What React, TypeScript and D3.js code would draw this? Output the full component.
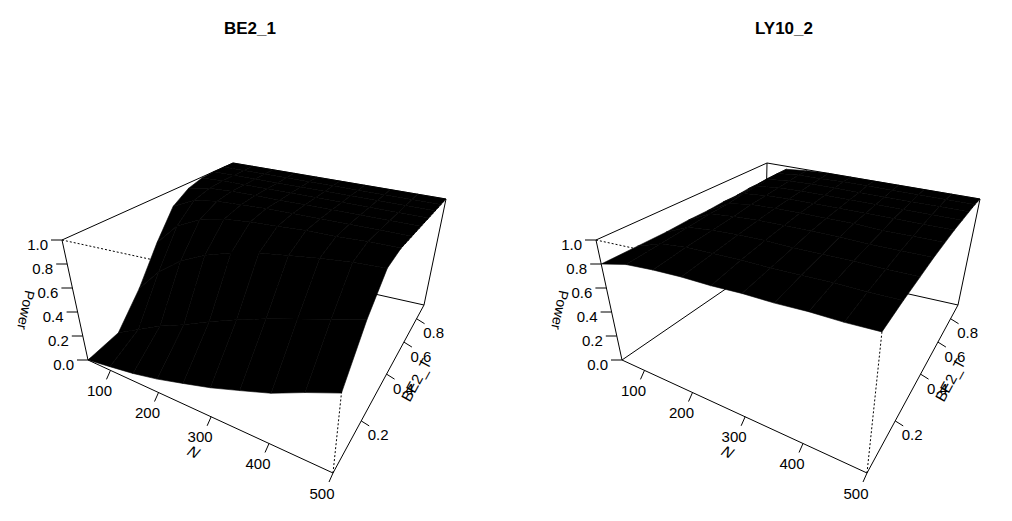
import * as d3 from "d3"

const nValues = [50, 100, 150, 200, 250, 300, 350, 400, 450, 500]
const tValues = [0.05, 0.15, 0.25, 0.35, 0.45, 0.55, 0.65, 0.75, 0.85, 0.95]
const nTicks = [100, 200, 300, 400, 500]
const tTicks = [0.2, 0.4, 0.6, 0.8]
const zTicks = [0, 0.2, 0.4, 0.6, 0.8, 1.0]

// rows = N, columns = BE2_T
const be2Power = [
  [0.0, 0.05, 0.3, 0.6, 0.85, 0.95, 0.99, 1, 1, 1],
  [0.03, 0.15, 0.5, 0.8, 0.95, 0.99, 1, 1, 1, 1],
  [0.06, 0.25, 0.65, 0.9, 0.98, 1, 1, 1, 1, 1],
  [0.1, 0.33, 0.75, 0.95, 0.99, 1, 1, 1, 1, 1],
  [0.15, 0.42, 0.82, 0.97, 1, 1, 1, 1, 1, 1],
  [0.2, 0.5, 0.87, 0.98, 1, 1, 1, 1, 1, 1],
  [0.26, 0.57, 0.9, 0.99, 1, 1, 1, 1, 1, 1],
  [0.32, 0.63, 0.93, 0.99, 1, 1, 1, 1, 1, 1],
  [0.4, 0.69, 0.95, 1, 1, 1, 1, 1, 1, 1],
  [0.47, 0.75, 0.96, 1, 1, 1, 1, 1, 1, 1],
]
const ly10Power = [
  [0.8, 0.8, 0.8, 0.81, 0.81, 0.82, 0.82, 0.83, 0.83, 0.84],
  [0.85, 0.87, 0.89, 0.91, 0.92, 0.94, 0.95, 0.96, 0.97, 0.97],
  [0.86, 0.89, 0.91, 0.93, 0.95, 0.96, 0.97, 0.98, 0.99, 0.99],
  [0.86, 0.89, 0.92, 0.94, 0.96, 0.97, 0.98, 0.99, 0.99, 1],
  [0.85, 0.89, 0.92, 0.94, 0.96, 0.97, 0.98, 0.99, 1, 1],
  [0.85, 0.88, 0.91, 0.94, 0.96, 0.97, 0.98, 0.99, 1, 1],
  [0.84, 0.88, 0.91, 0.94, 0.96, 0.97, 0.98, 0.99, 1, 1],
  [0.84, 0.88, 0.91, 0.93, 0.95, 0.97, 0.98, 0.99, 1, 1],
  [0.83, 0.87, 0.9, 0.93, 0.95, 0.97, 0.98, 0.99, 1, 1],
  [0.83, 0.87, 0.9, 0.93, 0.95, 0.97, 0.98, 0.99, 1, 1],
]

const panels = [
  { title: "BE2_1", values: be2Power, dx: 0 },
  { title: "LY10_2", values: ly10Power, dx: 534 },
]

type P = [number, number]
// box corners in screen space (bottom/top), left panel
const corners: Record<string, P> = {
  Ab: [88, 360], At: [62, 240],
  Bb: [333, 473], Bt: [351, 303],
  Cb: [424, 305], Ct: [446, 199],
  Db: [231, 262], Dt: [233, 163],
}

const nScale = d3.scaleLinear().domain([50, 500]).range([0, 1])
const tScale = d3.scaleLinear().domain([0.05, 0.95]).range([0, 1])
const zScale = d3.scaleLinear().domain([0, 1]).range([0, 1])
// perspective-like warps
const warp = (t: number, r: number) => t / (t + r * (1 - t))

const lerp = (a: P, b: P, f: number): P => [a[0] + (b[0] - a[0]) * f, a[1] + (b[1] - a[1]) * f]

function project(n: number, t: number, z: number, dx: number): P {
  const sn = warp(nScale(n), 1.237)
  const st = warp(tScale(t), 0.445)
  const c = corners
  const bil = (a: P, b: P, cc: P, d: P) => lerp(lerp(a, b, sn), lerp(d, cc, sn), st)
  const bot = bil(c.Ab, c.Bb, c.Cb, c.Db)
  const top = bil(c.At, c.Bt, c.Ct, c.Dt)
  const p = lerp(bot, top, zScale(z))
  return [p[0] + dx, p[1]]
}

const font = "'Liberation Sans', Arial, sans-serif"

function Panel({ title, values, dx }: { title: string; values: number[][]; dx: number }) {
  const c = corners
  const sh = (p: P): P => [p[0] + dx, p[1]]
  const ln = (a: P, b: P, dash?: boolean, key?: string) => (
    <line key={key} x1={sh(a)[0]} y1={sh(a)[1]} x2={sh(b)[0]} y2={sh(b)[1]}
      stroke="#000" strokeWidth={1} strokeDasharray={dash ? "2,2" : undefined} />
  )
  const cells: { key: string; order: number; d: string }[] = []
  for (let i = 0; i < nValues.length - 1; i++) {
    for (let j = 0; j < tValues.length - 1; j++) {
      const pts = [
        project(nValues[i], tValues[j], values[i][j], dx),
        project(nValues[i + 1], tValues[j], values[i + 1][j], dx),
        project(nValues[i + 1], tValues[j + 1], values[i + 1][j + 1], dx),
        project(nValues[i], tValues[j + 1], values[i][j + 1], dx),
      ]
      cells.push({ key: `${i}-${j}`, order: i - j, d: "M" + pts.map((p) => p.join(",")).join("L") + "Z" })
    }
  }
  cells.sort((a, b) => a.order - b.order)
  const cx = 250 + dx
  return (
    <g>
      <text x={cx} y={34} textAnchor="middle" fontWeight="bold" fontSize={17} fontFamily={font}>{title}</text>
      {ln(c.At, c.Bt, true)}
      {ln(c.Bt, c.Ct, true)}
      {ln(c.Bb, c.Bt, true)}
      {ln(c.At, c.Dt)}
      {ln(c.Dt, c.Ct)}
      {ln(c.Ct, c.Cb)}
      {ln(c.Cb, c.Db)}
      {ln(c.Db, c.Ab)}
      {ln(c.Db, c.Dt)}
      {cells.map((cl) => (
        <path key={cl.key} d={cl.d} fill="#000" stroke="#000" strokeWidth={0.6} strokeLinejoin="round" />
      ))}
      {ln(c.Ab, c.Bb)}
      {ln(c.Bb, c.Cb)}
      {ln(c.Ab, c.At)}
      {nTicks.map((n) => {
        const p = project(n, 0.05, 0, dx)
        return (
          <g key={"n" + n}>
            <line x1={p[0]} y1={p[1]} x2={p[0] - 4} y2={p[1] + 9} stroke="#000" />
            <text x={p[0] - 11} y={p[1] + 20} textAnchor="middle" dominantBaseline="central" fontSize={15} fontFamily={font}>{n}</text>
          </g>
        )
      })}
      {tTicks.map((t) => {
        const p = project(500, t, 0, dx)
        return (
          <g key={"t" + t}>
            <line x1={p[0]} y1={p[1]} x2={p[0] + 8} y2={p[1] + 5} stroke="#000" />
            <text x={p[0] + 17} y={p[1] + 14} textAnchor="middle" dominantBaseline="central" fontSize={15} fontFamily={font}>{t.toFixed(1)}</text>
          </g>
        )
      })}
      {zTicks.map((z) => {
        const p = project(50, 0.05, z, dx)
        return (
          <g key={"z" + z}>
            <line x1={p[0]} y1={p[1]} x2={p[0] - 11} y2={p[1]} stroke="#000" />
            <text x={p[0] - 14} y={p[1] + 4} textAnchor="end" dominantBaseline="central" fontSize={15} fontFamily={font}>{z.toFixed(1)}</text>
          </g>
        )
      })}
      <text transform={`translate(${26 + dx},310) rotate(102)`} textAnchor="middle" dominantBaseline="central" fontSize={14} fontFamily={font}>Power</text>
      <text transform={`translate(${194 + dx},452) rotate(25) skewX(-15)`} textAnchor="middle" dominantBaseline="central" fontSize={15} fontFamily={font}>N</text>
      <text transform={`translate(${416 + dx},380) rotate(-61)`} textAnchor="middle" dominantBaseline="central" fontSize={15} fontFamily={font}>BE2_T</text>
    </g>
  )
}

export default function App() {
  return (
    <svg width={1012} height={521} style={{ position: "absolute", left: 0, top: 0, background: "#fff" }}>
      {panels.map((p) => (
        <Panel key={p.title} {...p} />
      ))}
    </svg>
  )
}
